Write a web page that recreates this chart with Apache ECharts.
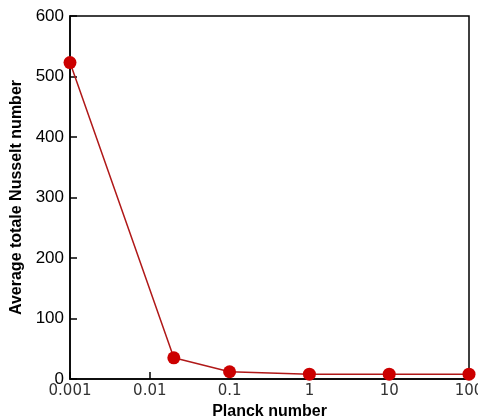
<!DOCTYPE html>
<html>
<head>
<meta charset="utf-8">
<script src="https://cdn.jsdelivr.net/npm/echarts@6/dist/echarts.min.js"></script>
<style>
  html, body { margin: 0; padding: 0; background: #fff; }
  #chart { width: 478px; height: 418px; }
</style>
</head>
<body>
<div id="chart"></div>
<script>
// Planck number (log scale) vs. average total Nusselt number
const planck = [0.001, 0.02, 0.1, 1, 10, 100];
const nusselt = [523, 35, 12, 8, 8, 8];
const xTickLabels = ['0.001', '0.01', '0.1', '1', '10', '100'];
const yTicks = [0, 100, 200, 300, 400, 500, 600];

const chart = echarts.init(document.getElementById('chart'));
chart.setOption({
  animation: false,
  backgroundColor: '#fff',
  grid: {
    left: 70, right: 9, top: 16, bottom: 39,
    outerBoundsMode: 'none', containLabel: false,
    show: true, borderColor: '#000', borderWidth: 1.5, backgroundColor: 'transparent'
  },
  xAxis: {
    type: 'log', logBase: 10, min: 0.001, max: 100,
    name: 'Planck number', nameLocation: 'middle', nameGap: 22,
    nameTextStyle: { fontFamily: 'Liberation Sans', fontWeight: 'bold', fontSize: 16, color: '#000' },
    axisLine: { lineStyle: { color: '#000', width: 1.5 } },
    axisTick: { inside: true, length: 7, lineStyle: { color: '#000', width: 1.5 } },
    splitLine: { show: false },
    minorTick: { show: false },
    axisLabel: {
      margin: 5, fontFamily: 'DejaVu Sans', fontSize: 15, color: '#333',
      formatter: v => xTickLabels[Math.round(Math.log10(v)) + 3]
    }
  },
  yAxis: {
    type: 'value', min: yTicks[0], max: yTicks[yTicks.length - 1], interval: 100,
    name: 'Average totale Nusselt number', nameLocation: 'middle', nameGap: 44,
    nameTextStyle: { fontFamily: 'Liberation Sans', fontWeight: 'bold', fontSize: 16, color: '#000' },
    axisLine: { show: true, lineStyle: { color: '#000', width: 1.5 } },
    axisTick: { show: true, inside: true, length: 7, lineStyle: { color: '#000', width: 1.5 } },
    splitLine: { show: false },
    axisLabel: { margin: 6, fontFamily: 'Liberation Sans', fontSize: 17, color: '#000' }
  },
  series: [{
    type: 'line',
    data: planck.map((p, i) => [p, nusselt[i]]),
    symbol: 'circle', symbolSize: 13,
    itemStyle: { color: '#cc0000' },
    lineStyle: { color: '#b01818', width: 1.5 },
    clip: false
  }]
});
</script>
</body>
</html>
